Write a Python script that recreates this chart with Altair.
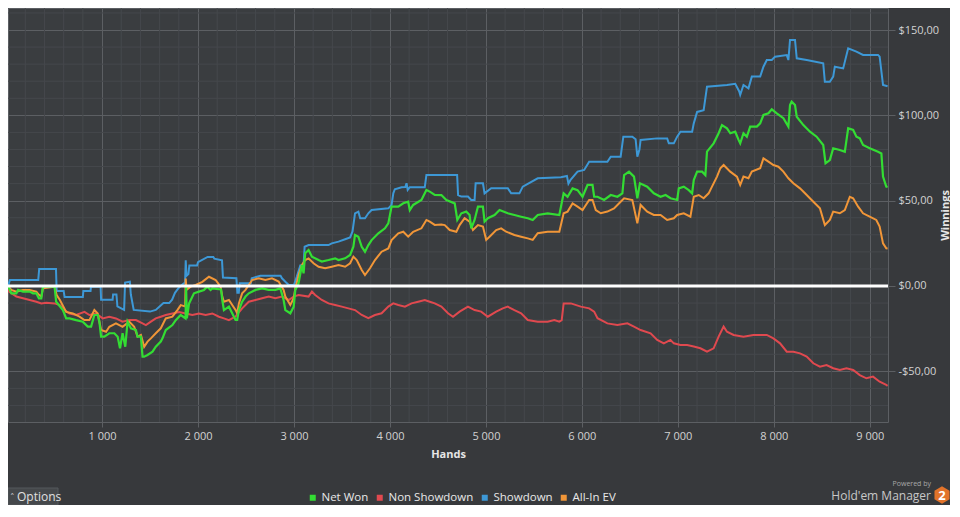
import altair as alt
import pandas as pd

SERIES = ["Net Won", "Non Showdown", "Showdown", "All-In EV"]
COLORS = ["#33dd33", "#e0494f", "#3d98d6", "#f19638"]

NET_WON = [(20,0),(31,-1.4),(55,-4.3),(107,-4.3),(125,-2.3),(176,-3.3),(246,-3.3),(280,-4.3),(315,-4.3),(342,-7.2),(367,-7.2),(384,-0.4),(505,-0.4),(522,-9.2),(592,-14.1),(626,-19),(661,-19),(730,-20),(799,-20.9),(851,-23.8),(886,-23.8),(920,-17),(955,-17),(972,-20.9),(990,-29.7),(1024,-29.7),(1076,-27.7),(1128,-27.7),(1163,-29.7),(1187,-36.5),(1214,-27.7),(1242,-35.6),(1266,-20.9),(1301,-24.8),(1353,-25.8),(1370,-29.7),(1405,-29.7),(1422,-41.4),(1439,-41.4),(1474,-40.4),(1526,-38.5),(1560,-35.6),(1612,-32.6),(1630,-30.7),(1664,-25.8),(1733,-22.9),(1768,-20),(1820,-17),(1870,-19),(1876,-0.5),(1884,-19),(1907,-10.2),(1958,-4.3),(2010,-3.3),(2062,-2.3),(2097,-0.4),(2131,-2.3),(2149,-1.4),(2240,-2),(2253,-8.2),(2270,-14.1),(2322,-12.1),(2391,-19.9),(2408,-19.9),(2426,-14.1),(2460,-9.2),(2495,-6.2),(2529,-4.3),(2599,-2.3),(2668,-1.4),(2737,-2.3),(2806,-2.3),(2858,-1.4),(2892,-8.2),(2910,-14.1),(2962,-16),(2997,-12.1),(3014,-2.3),(3048,1.6),(3083,12.3),(3100,7.4),(3117,19.2),(3152,21.1),(3187,17.2),(3256,15.2),(3290,14.3),(3360,15.2),(3429,16.2),(3464,15.2),(3533,16.2),(3585,18.2),(3619,23),(3636,29.9),(3671,28.9),(3706,23),(3740,20.1),(3775,24),(3809,26.9),(3879,30.9),(3948,33.8),(3983,36.7),(4017,46.5),(4087,46.5),(4139,48.5),(4190,49.4),(4207,44.5),(4242,47.5),(4328,50.4),(4380,56.3),(4415,55.3),(4467,53.4),(4536,53.3),(4588,50.4),(4675,48.4),(4702,38.7),(4744,42.6),(4795,43.6),(4830,41.6),(4847,33.8),(4882,38.7),(4917,46.5),(4969,46.5),(4986,37.7),(5020,39.7),(5090,41.6),(5142,44.5),(5228,42.6),(5297,41.6),(5367,40.6),(5436,39.7),(5488,38.7),(5540,41.6),(5643,42.6),(5765,41.6),(5810,54.3),(5851,52.3),(5903,57.2),(5955,56.2),(6007,52.3),(6059,59.2),(6111,59.2),(6128,52.3),(6163,52.3),(6232,50.4),(6301,53.3),(6370,52.3),(6422,54.3),(6440,65),(6491,67),(6543,64.1),(6578,51.4),(6605,60.2),(6681,58.2),(6750,54.3),(6820,52.3),(6872,53.3),(6924,51.4),(6993,50.4),(7010,57.2),(7062,58.2),(7114,56.2),(7149,54.3),(7166,62.1),(7201,67),(7253,67),(7287,65),(7304,78.7),(7373,83.6),(7425,89.5),(7460,94.3),(7512,92.4),(7547,89.5),(7598,90.4),(7633,85.6),(7650,83.6),(7684,89.5),(7719,87.5),(7754,93.4),(7823,93.4),(7858,95.3),(7892,100.2),(7944,101.2),(7979,103.5),(8031,101.2),(8100,98.3),(8152,93.4),(8169,106),(8186,108),(8221,106),(8239,99.2),(8308,94.3),(8377,90.4),(8446,87.5),(8515,82.6),(8539,71.9),(8584,73.8),(8619,80.7),(8688,79.7),(8740,78.7),(8775,92.4),(8827,91.4),(8861,87.5),(8896,86.5),(8930,82.6),(8999,80.7),(9086,78.7),(9121,77.7),(9138,64.1),(9172,58.2),(9186,58)]

NON_SHOWDOWN = [(20,0),(31,-3.3),(107,-6.2),(176,-7.2),(246,-8.2),(315,-9.2),(367,-10.2),(419,-9.8),(505,-10.2),(557,-11.1),(609,-14.1),(661,-16.1),(730,-17),(817,-15.2),(868,-17),(938,-16.1),(1007,-19),(1076,-18),(1145,-19),(1214,-20.9),(1283,-20),(1353,-20),(1422,-21.9),(1457,-22.9),(1509,-20.9),(1560,-19),(1612,-18),(1664,-17),(1733,-16.1),(1803,-15.2),(1872,-16.1),(1941,-17),(2010,-16.1),(2080,-17),(2149,-16.1),(2218,-18),(2270,-19),(2322,-20),(2391,-17.9),(2460,-13.1),(2529,-9.2),(2599,-8.2),(2668,-7.2),(2737,-6.2),(2806,-7.2),(2875,-6.2),(2945,-8.2),(2997,-6.2),(3048,-5.3),(3152,-6.2),(3187,-3.3),(3221,-5.3),(3290,-8.2),(3360,-10.2),(3429,-11.1),(3498,-12.1),(3567,-13.1),(3636,-14.1),(3706,-17),(3775,-18.9),(3844,-17),(3913,-16),(3983,-12.1),(4035,-10.2),(4087,-11.1),(4156,-12.1),(4225,-10.2),(4294,-9.2),(4363,-8.2),(4415,-9.2),(4467,-10.2),(4536,-12.1),(4605,-16),(4657,-18),(4726,-15),(4813,-12.1),(4882,-14.1),(4951,-15),(5020,-18),(5107,-15),(5176,-13.1),(5228,-12.1),(5297,-14.1),(5367,-16),(5436,-19.9),(5540,-20.9),(5643,-20.9),(5713,-19.9),(5765,-20.9),(5790,-20),(5810,-10.2),(5886,-10.2),(5989,-12.1),(6076,-13.1),(6128,-15),(6163,-18.9),(6266,-21.9),(6370,-22.9),(6474,-21.9),(6543,-23.8),(6612,-25.8),(6716,-27.7),(6785,-31.6),(6854,-33.6),(6923,-31.6),(6958,-33.6),(7027,-34.6),(7097,-34.6),(7166,-35.5),(7235,-36.5),(7304,-38.5),(7373,-36.5),(7425,-29.7),(7477,-23.8),(7512,-26.8),(7581,-28.7),(7684,-29.7),(7788,-28.7),(7858,-28.7),(7927,-28.7),(7996,-30.7),(8065,-33.6),(8135,-38.5),(8204,-38.5),(8273,-39.5),(8343,-41.4),(8412,-45.3),(8481,-47.3),(8550,-46.3),(8619,-48.2),(8688,-49.2),(8757,-48.2),(8827,-49.2),(8896,-52.2),(8965,-54.1),(9034,-53.1),(9103,-56.1),(9172,-58),(9186,-58.5)]

SHOWDOWN = [(20,0),(40,3.5),(335,3.5),(345,10),(520,10),(527,-3),(600,-3),(610,-6.5),(800,-6.5),(805,-3),(880,-3),(885,-0.4),(985,-0.4),(990,-8),(1110,-8),(1115,-5),(1150,-5),(1160,-12),(1230,-14),(1240,2),(1290,2.5),(1300,-5),(1330,-14),(1500,-15),(1560,-14),(1640,-10),(1700,-10),(1730,-8),(1760,-4),(1800,-1),(1840,1),(1865,2),(1872,15),(1880,6),(1900,7),(1910,12),(1990,12),(2000,14),(2100,17),(2160,17),(2170,16),(2250,15),(2260,5),(2400,4.5),(2410,-4),(2425,-4),(2435,1.6),(2550,1.6),(2560,4.5),(2650,6),(2860,6),(2875,4.5),(2910,2.5),(2945,0.6),(3000,0.6),(3030,5.5),(3066,12),(3100,12.3),(3111,23),(3152,24),(3360,24),(3394,25),(3464,26),(3533,27.4),(3585,28.5),(3610,32),(3636,42.6),(3671,43.6),(3690,39.7),(3740,39.7),(3775,42.6),(3809,44.5),(3983,45.5),(4017,47.5),(4035,54.3),(4051,56.7),(4121,57.9),(4160,58),(4173,60.2),(4185,56.3),(4207,57.9),(4363,57.9),(4380,65),(4700,65),(4710,53.3),(4744,52.4),(4813,52.4),(4847,50.4),(4882,50.4),(4893,60.2),(4969,60.2),(4986,54.3),(5055,57.3),(5228,57.3),(5263,54.3),(5349,54.3),(5384,58.2),(5540,63.1),(5782,63.7),(5844,64.5),(5860,60),(5880,62),(5955,67),(6024,68),(6076,72.8),(6266,72.8),(6301,75.8),(6404,75.8),(6432,87.5),(6526,87.5),(6560,86),(6578,75.8),(6600,80),(6612,85.6),(6785,86.5),(6889,86.5),(6906,83.6),(6958,83.6),(6993,87.5),(7027,90.4),(7149,90.4),(7166,95.3),(7201,102),(7269,103),(7304,116.8),(7512,117.8),(7598,118.5),(7640,114),(7650,112),(7684,117.8),(7736,115.8),(7771,122.7),(7858,122.7),(7892,128.5),(7927,132.4),(7979,132.4),(8013,134.4),(8135,135.3),(8152,132.4),(8169,144.2),(8221,144.2),(8239,133.4),(8343,132.4),(8515,130.5),(8532,119.7),(8584,119.7),(8619,122.7),(8636,128.5),(8723,127.5),(8775,139.3),(8861,137.3),(8930,135.4),(9086,135.4),(9103,134.4),(9138,117.8),(9186,117)]

ALL_IN_EV = [(20,0),(31,-0.8),(55,-2.3),(107,-3.3),(176,-2.3),(246,-2.3),(315,-3.3),(342,-5.2),(367,-6.2),(384,-1.4),(505,-0.4),(527,-5.3),(561,-8.2),(626,-15.2),(696,-16.1),(765,-18),(816,-20),(868,-20),(920,-14.1),(955,-16.1),(990,-25.8),(1042,-26.8),(1076,-23.9),(1145,-21.9),(1214,-23.9),(1283,-20.9),(1335,-23.9),(1370,-29.7),(1405,-28.7),(1439,-35.6),(1474,-32.6),(1509,-30.7),(1560,-27.7),(1612,-24.8),(1664,-19),(1733,-18),(1785,-14.1),(1820,-11.2),(1866,-12),(1872,4.4),(1880,-2.3),(1924,-0.4),(1976,0.6),(2045,2.4),(2114,5.4),(2184,3.5),(2235,-0.4),(2253,-6.2),(2270,-9.2),(2322,-8.2),(2391,-14),(2408,-16),(2426,-10.2),(2460,-4.3),(2495,-2.3),(2564,3.5),(2633,4.5),(2702,3.5),(2771,4.5),(2840,2.6),(2892,-2.3),(2910,-6.2),(2962,-11.1),(2997,-7.2),(3014,-1.4),(3048,6.4),(3083,12.3),(3117,15.2),(3152,16.2),(3204,13.3),(3256,11.3),(3325,10.4),(3394,11.3),(3464,12.3),(3533,11.3),(3585,13.3),(3619,17.2),(3654,15.2),(3706,9.4),(3740,6.4),(3792,10.4),(3844,15.2),(3913,20.1),(3983,22),(4017,26.9),(4087,30.9),(4139,31.8),(4190,28.9),(4242,31.8),(4328,33.8),(4380,38.7),(4415,37.7),(4467,35.8),(4536,36),(4571,35.7),(4623,32.8),(4692,31.8),(4726,35.7),(4778,39.7),(4830,37.7),(4865,32.8),(4917,35.7),(4969,34.8),(5003,27),(5038,28.9),(5107,32.8),(5159,33.8),(5211,31.8),(5297,29.9),(5367,28.9),(5436,27.9),(5488,27),(5540,30.9),(5643,31.8),(5765,31.8),(5810,42.6),(5851,43.6),(5903,48.4),(5955,46.5),(6007,44.5),(6076,50.4),(6111,50.4),(6145,44.5),(6197,42.6),(6266,43.6),(6335,45.5),(6404,49.4),(6440,51.4),(6526,50.4),(6578,36.7),(6612,47.5),(6681,43.6),(6750,41.6),(6820,41.6),(6889,38.7),(6958,39.7),(6993,41.6),(7062,42.6),(7131,40.6),(7166,52.3),(7218,53.3),(7269,51.4),(7321,54.3),(7356,58.2),(7408,64.1),(7443,69),(7477,70.9),(7546,67),(7616,64.1),(7650,59.2),(7684,64.1),(7736,63.1),(7771,67),(7858,69),(7892,74.8),(7944,72.9),(7996,70.9),(8048,69.9),(8100,67),(8152,63.1),(8204,60.2),(8273,57.2),(8343,53.3),(8412,49.4),(8481,45.5),(8532,35.7),(8584,38.7),(8619,43.6),(8688,42.6),(8740,44.5),(8792,52.3),(8827,51.4),(8879,46.5),(8930,42.6),(8999,40.6),(9068,38.7),(9103,34.8),(9138,25),(9172,22.1),(9186,22)]

X_TICKS = [1000, 2000, 3000, 4000, 5000, 6000, 7000, 8000, 9000]
Y_TICKS = [-50, 0, 50, 100, 150]
X_MINOR = [v for v in range(200, 9200, 200) if v % 1000 != 0]
Y_MINOR = [v for v in range(-70, 170, 10) if v % 50 != 0]
X_DOMAIN = [20, 9190]
Y_DOMAIN = [-79.7, 162.9]

FONT = "Open Sans"
GRID = "#5c5f63"
MINOR = "#45484c"

rows = []
for name, pts in zip(SERIES, [NET_WON, NON_SHOWDOWN, SHOWDOWN, ALL_IN_EV]):
    for h, v in pts:
        rows.append({"series": name, "hands": h, "value": v})
df = pd.DataFrame(rows)

xs = alt.Scale(domain=X_DOMAIN, nice=False, zero=False)
ys = alt.Scale(domain=Y_DOMAIN, nice=False, zero=False)
cs = alt.Scale(domain=SERIES, range=COLORS)

xaxis = alt.Axis(values=X_TICKS, labelExpr="replace(format(datum.value, ','), ',', ' ')",
                 grid=True, gridColor=GRID, gridWidth=1, tickColor=GRID, tickSize=5,
                 domain=False, labelColor="#d2d2d2", labelFont=FONT, labelFontSize=11,
                 labelPadding=3, title="Hands", titleColor="#e6e6e6", titleFont=FONT,
                 titleFontSize=11, titleFontWeight="bold", titlePadding=7)
yaxis = alt.Axis(orient="right", values=Y_TICKS,
                 labelExpr="(datum.value < 0 ? '-' : '') + '$' + abs(datum.value) + ',00'",
                 grid=True, gridColor=GRID, gridWidth=1, tickColor=GRID, tickSize=7,
                 domain=False, labelColor="#d2d2d2", labelFont=FONT, labelFontSize=11,
                 labelPadding=3, title="Winnings", titleColor="#e6e6e6", titleFont=FONT,
                 titleFontSize=11, titleFontWeight="bold", titleAngle=270,
                 titleX=57, titleY=207, titleAlign="center", titleBaseline="middle")
legend = alt.Legend(orient="none", legendX=299, legendY=484, direction="horizontal",
                    title=None, symbolType="square", symbolSize=9, symbolStrokeWidth=3,
                    labelColor="#e8e8e8", labelFont=FONT, labelFontSize=11.5,
                    labelOffset=3, columnPadding=3, gridAlign="none")

minor_x = alt.Chart(pd.DataFrame({"h": X_MINOR})).mark_rule(color=MINOR, strokeWidth=1).encode(
    x=alt.X("h:Q", scale=xs, axis=xaxis))
minor_y = alt.Chart(pd.DataFrame({"v": Y_MINOR})).mark_rule(color=MINOR, strokeWidth=1).encode(
    y=alt.Y("v:Q", scale=ys, axis=yaxis))

def series_layer(name, width=2.0):
    return alt.Chart(df).transform_filter(alt.datum.series == name).mark_line(
        strokeWidth=width).encode(
        x=alt.X("hands:Q", scale=xs, axis=xaxis),
        y=alt.Y("value:Q", scale=ys, axis=yaxis),
        color=alt.Color("series:N", scale=cs, legend=legend))

zero = alt.Chart(pd.DataFrame({"v": [0]})).mark_rule(color="white", strokeWidth=3).encode(
    y=alt.Y("v:Q", scale=ys, axis=yaxis))

one = pd.DataFrame({"t": [""]})
btn = alt.Chart(one).mark_rect(fill="#45484b", stroke="#55585c").encode(
    x=alt.value(0), x2=alt.value(50), y=alt.value(480), y2=alt.value(497))
btn_caret = alt.Chart(pd.DataFrame({"t": ["˄"]})).mark_text(
    align="left", baseline="middle", font="DejaVu Sans", fontSize=9, color="#cfcfcf").encode(
    text="t:N", x=alt.value(2), y=alt.value(489))
btn_text = alt.Chart(pd.DataFrame({"t": ["Options"]})).mark_text(
    align="left", baseline="middle", font=FONT, fontSize=12, color="#e0e0e0").encode(
    text="t:N", x=alt.value(9), y=alt.value(489))
powered = alt.Chart(pd.DataFrame({"t": ["Powered by"]})).mark_text(
    align="right", baseline="middle", font=FONT, fontSize=7, color="#a8a8a8").encode(
    text="t:N", x=alt.value(923), y=alt.value(476))
hem = alt.Chart(pd.DataFrame({"t": ["Hold'em Manager"]})).mark_text(
    align="right", baseline="middle", font=FONT, fontSize=12, color="#c8c8c8").encode(
    text="t:N", x=alt.value(923), y=alt.value(488))
HEX = "M0,-1L0.87,-0.5L0.87,0.5L0,1L-0.87,0.5L-0.87,-0.5Z"
hexmark = alt.Chart(one).mark_point(shape=HEX, filled=True, size=300, color="#e2732a", opacity=1).encode(
    x=alt.value(934), y=alt.value(487))
hex2 = alt.Chart(pd.DataFrame({"t": ["2"]})).mark_text(
    align="center", baseline="middle", font=FONT, fontSize=13, fontWeight="bold", color="white").encode(
    text="t:N", x=alt.value(934), y=alt.value(488))

chart = alt.layer(
    minor_x, minor_y,
    series_layer("Non Showdown"), series_layer("Showdown"),
    series_layer("All-In EV"), series_layer("Net Won", 2.2),
    zero, btn, btn_caret, btn_text, powered, hem, hexmark, hex2
).properties(
    width=880, height=414, autosize="none",
    padding={"left": 0, "top": 0, "right": 62, "bottom": 83},
    background="#37393c"
).configure_view(fill="#3a3d40", stroke=GRID, strokeWidth=1)

chart.save("out.html", embed_options={"renderer": "svg", "actions": False})
